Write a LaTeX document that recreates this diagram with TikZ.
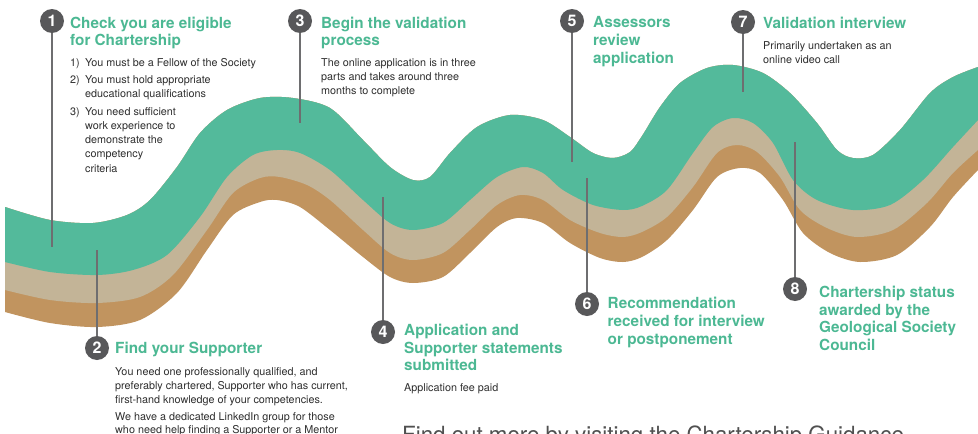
\documentclass[tikz,border=0pt]{standalone}
\usepackage{fontspec}
\setmainfont{TeX Gyre Heros}
\definecolor{bandgreen}{HTML}{53BA9B}
\definecolor{bandtan}{HTML}{C3B497}
\definecolor{bandbrown}{HTML}{C1945F}
\definecolor{titlegreen}{HTML}{4CB893}
\definecolor{bodygray}{HTML}{2E2E2E}
\definecolor{dotgray}{HTML}{58585A}
\definecolor{linegray}{HTML}{6E6E70}
\definecolor{footgray}{HTML}{505050}
\begin{document}
\begin{tikzpicture}[x=1pt,y=-1pt,
  ttl/.style={anchor=north west, inner sep=0pt, align=left, text=titlegreen, font=\fontsize{15.3}{17.6}\selectfont\bfseries},
  bodytxt/.style={anchor=north west, inner sep=0pt, align=left, text=bodygray, font=\fontsize{10.8}{14.2}\selectfont},
  numdot/.style={circle, fill=dotgray, text=white, inner sep=0pt, minimum size=24pt, font=\fontsize{16}{16}\selectfont\bfseries},
  leader/.style={draw=linegray, line width=1.2pt}]
\useasboundingbox (0,0) rectangle (978,434);
\clip (0,0) rectangle (978,434);
% band
\begin{scope}
\clip plot[smooth] coordinates {(5,207) (50,220) (93,223) (127,215) (150,200) (177,167) (200,133) (227,110) (260,98) (293,98) (330,108) (363,140) (390,167) (413,180) (430,177) (450,153) (477,127) (510,115) (543,120) (570,137) (593,153) (613,158) (630,152) (642,136) (660,107) (680,83) (707,68) (733,65) (763,73) (790,93) (817,123) (837,150) (853,158) (873,155) (900,130) (930,93) (953,77) (978,67)} -- (978,500) -- (5,500) -- cycle;
\fill[bandbrown] plot[smooth] coordinates {(5,312) (50,323) (97,327) (140,320) (177,293) (207,250) (233,215) (260,202) (277,200) (300,207) (330,230) (363,257) (390,277) (413,283) (443,277) (470,253) (497,227) (517,218) (543,223) (570,243) (600,258) (623,262) (642,257) (667,240) (693,210) (717,177) (740,168) (760,173) (783,200) (803,233) (830,253) (860,262) (897,255) (930,227) (953,197) (978,170)} -- (978,-20) -- (5,-20) -- cycle;
\fill[bandtan] plot[smooth] coordinates {(5,290) (50,300) (97,303) (140,297) (173,275) (207,230) (233,193) (260,178) (280,177) (307,185) (330,200) (363,230) (390,253) (413,260) (443,253) (470,230) (497,205) (520,195) (543,200) (570,220) (600,233) (623,237) (642,232) (667,217) (693,187) (717,153) (737,145) (757,152) (780,177) (800,210) (827,228) (857,237) (893,230) (927,203) (953,173) (978,150)} -- (978,-20) -- (5,-20) -- cycle;
\fill[bandgreen] plot[smooth] coordinates {(5,262) (50,272) (97,275) (133,270) (167,255) (200,217) (227,177) (253,155) (277,150) (300,153) (330,170) (363,200) (390,223) (413,230) (443,223) (470,200) (497,177) (523,167) (543,173) (563,190) (593,205) (623,210) (642,206) (667,190) (693,153) (713,127) (733,118) (753,123) (773,143) (793,180) (817,200) (853,210) (890,205) (923,180) (953,147) (978,120)} -- (978,-20) -- (5,-20) -- cycle;
\end{scope}
% markers
\node[numdot] (n1) at (52,21) {1};
\node[numdot] (n2) at (97,348) {2};
\node[numdot] (n3) at (300,21) {3};
\node[numdot] (n4) at (383,332) {4};
\node[numdot] (n5) at (572,21) {5};
\node[numdot] (n6) at (587,304) {6};
\node[numdot] (n7) at (743,22) {7};
\node[numdot] (n8) at (795,289) {8};
\coordinate (e1) at (52,247);
\coordinate (e2) at (97,250);
\coordinate (e3) at (300,123);
\coordinate (e4) at (383,197);
\coordinate (e5) at (572,162);
\coordinate (e6) at (587,178);
\coordinate (e7) at (743,92);
\coordinate (e8) at (795,142);
\draw[leader] (n1) -- (e1);
\draw[leader] (e2) -- (n2);
\draw[leader] (n3) -- (e3);
\draw[leader] (e4) -- (n4);
\draw[leader] (n5) -- (e5);
\draw[leader] (e6) -- (n6);
\draw[leader] (n7) -- (e7);
\draw[leader] (e8) -- (n8);
% texts
\node[ttl] (t1) at (70,16.5) {Check you are eligible\\for Chartership};
\node[bodytxt] (b1) at (70,58.5) {\makebox[15pt][l]{1)}You must be a Fellow of the Society\\[2.6pt]
\makebox[15pt][l]{2)}You must hold appropriate\\
\makebox[15pt][l]{}educational qualifications\\[3.4pt]
\makebox[15pt][l]{3)}You need sufficient\\
\makebox[15pt][l]{}work experience to\\
\makebox[15pt][l]{}demonstrate the\\
\makebox[15pt][l]{}competency\\
\makebox[15pt][l]{}criteria};
\node[ttl] (t3) at (321,16.5) {Begin the validation\\process};
\node[bodytxt] (b3) at (321,58.3) {The online application is in three\\parts and takes around three\\months to complete};
\node[ttl] (t5) at (593,16.5) {Assessors\\review\\application};
\node[ttl] (t7) at (763,16.7) {Validation interview};
\node[bodytxt] (b7) at (763,41.7) {Primarily undertaken as an\\online video call};
\node[ttl] (t2) at (115,342.3) {Find your Supporter};
\node[bodytxt, font=\fontsize{10.8}{13.7}\selectfont] (b2) at (115,367.7) {You need one professionally qualified, and\\preferably chartered, Supporter who has current,\\first-hand knowledge of your competencies.\\[3.3pt]We have a dedicated LinkedIn group for those\\who need help finding a Supporter or a Mentor};
\node[ttl] (t4) at (404,324) {Application and\\Supporter statements\\submitted};
\node[bodytxt] (b4) at (404,383.3) {Application fee paid};
\node[ttl] (t6) at (607.5,297.3) {Recommendation\\received for interview\\or postponement};
\node[ttl] (t8) at (819,286) {Chartership status\\awarded by the\\Geological Society\\Council};
\node[anchor=base west, inner sep=0pt, text=footgray, font=\fontsize{22.3}{24}\selectfont] (foot) at (402,442.5) {Find out more by visiting the Chartership Guidance};
\end{tikzpicture}
\end{document}
